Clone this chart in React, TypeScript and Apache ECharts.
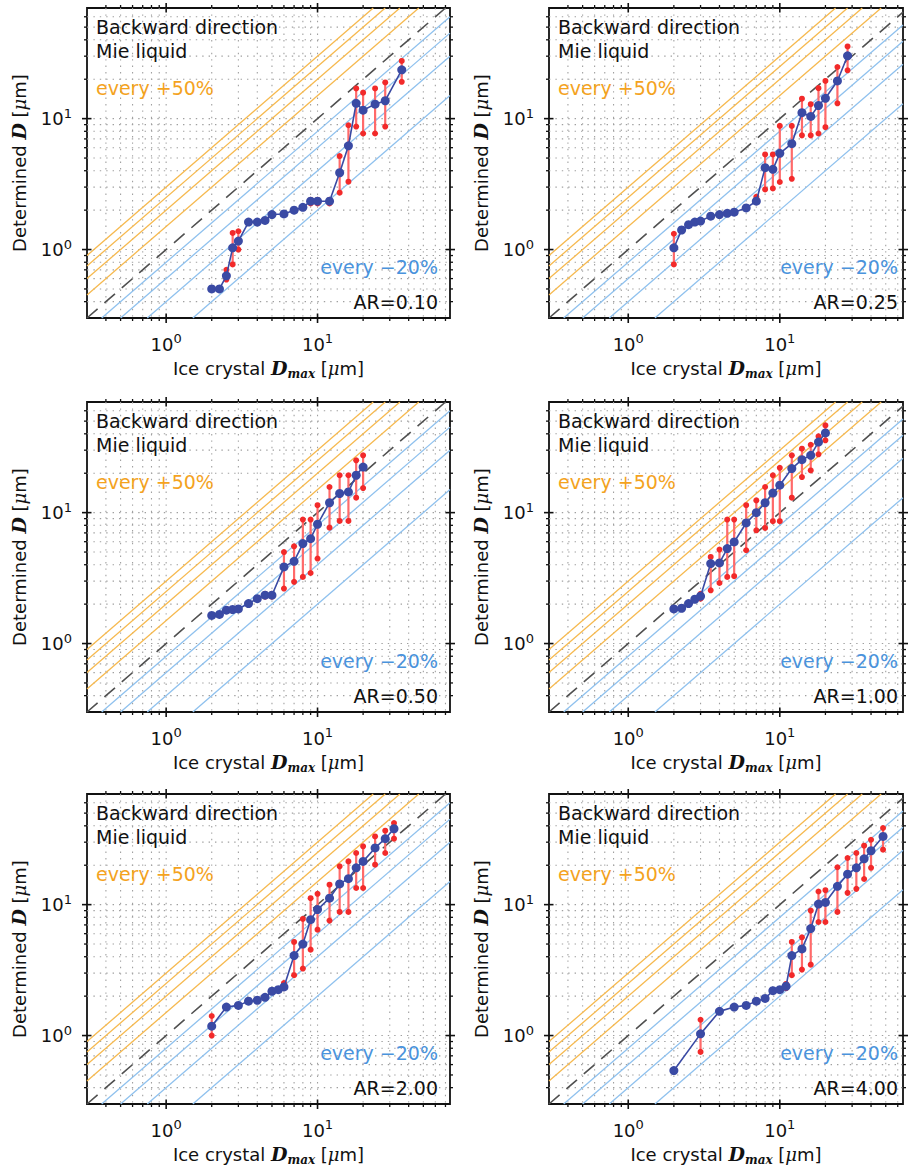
import React, { useEffect, useRef } from 'react';
import * as echarts from 'echarts';

// ---------- texts ----------
const PANEL_LABELS = ['AR=0.10', 'AR=0.25', 'AR=0.50', 'AR=1.00', 'AR=2.00', 'AR=4.00'];
const LINE1 = 'Backward direction';
const LINE2 = 'Mie liquid';
const PLUS_LABEL = 'every +50%';
const MINUS_LABEL = 'every \u221220%';

// ---------- data (Dmax, determined D, lower / upper bound) ----------
const X1 = [2, 2.25, 2.5, 2.75, 3, 3.5, 4, 4.5, 5, 6, 7, 8, 9, 10, 12, 14, 16, 18, 20, 24, 28, 36];
const Y1 = [0.5, 0.5, 0.63, 1.03, 1.16, 1.62, 1.62, 1.67, 1.85, 1.87, 2.0, 2.1, 2.34, 2.34, 2.34, 3.86, 6.2, 13.1, 11.6, 12.9, 13.7, 23.6];
const LO1 = [0.5, 0.5, 0.59, 0.77, 1.0, 1.62, 1.62, 1.67, 1.85, 1.87, 2.0, 2.1, 2.25, 2.25, 2.25, 2.72, 3.3, 8.7, 7.7, 7.7, 8.7, 19.1];
const HI1 = [0.5, 0.5, 0.7, 1.34, 1.38, 1.62, 1.62, 1.67, 1.85, 1.87, 2.0, 2.1, 2.4, 2.4, 2.4, 5.18, 8.9, 17.0, 15.8, 17.0, 18.9, 27.6];

const X2 = [2, 2.25, 2.5, 2.75, 3, 3.5, 4, 4.5, 5, 6, 7, 8, 9, 10, 12, 14, 16, 18, 20, 24, 28];
const Y2 = [1.03, 1.41, 1.55, 1.62, 1.65, 1.8, 1.85, 1.89, 1.93, 2.08, 2.34, 4.22, 4.1, 5.43, 6.44, 11.1, 10.4, 12.6, 14.3, 19.4, 30.2];
const LO2 = [0.77, 1.41, 1.55, 1.62, 1.65, 1.8, 1.85, 1.89, 1.93, 2.08, 2.3, 2.88, 2.93, 3.28, 3.47, 7.45, 7.45, 7.7, 8.6, 13.1, 23.4];
const HI2 = [1.32, 1.41, 1.55, 1.62, 1.65, 1.8, 1.85, 1.89, 1.93, 2.08, 2.53, 5.33, 5.33, 8.8, 8.8, 14.2, 12.9, 17.1, 19.4, 24.8, 35.6];

const X3 = [2, 2.25, 2.5, 2.75, 3, 3.5, 4, 4.5, 5, 6, 7, 8, 9, 10, 12, 14, 16, 18, 20];
const Y3 = [1.64, 1.67, 1.8, 1.82, 1.84, 2.02, 2.2, 2.34, 2.34, 3.85, 4.25, 5.8, 6.33, 8.15, 11.9, 14.0, 14.4, 19.3, 22.3];
const LO3 = [1.64, 1.67, 1.8, 1.82, 1.84, 2.02, 2.2, 2.28, 2.28, 2.63, 2.96, 3.23, 3.46, 4.46, 7.68, 8.64, 8.64, 13.0, 15.4];
const HI3 = [1.64, 1.67, 1.8, 1.82, 1.84, 2.02, 2.2, 2.4, 2.4, 5.0, 5.53, 8.85, 8.85, 11.4, 15.7, 19.3, 19.3, 25.1, 27.4];

const X4 = [2, 2.25, 2.5, 2.75, 3, 3.5, 4, 4.5, 5, 6, 7, 8, 9, 10, 12, 14, 16, 18, 20];
const Y4 = [1.84, 1.86, 2.02, 2.18, 2.3, 4.08, 4.13, 5.31, 5.97, 8.34, 10.0, 11.9, 14.1, 16.2, 21.7, 25.4, 27.4, 34.6, 40.6];
const LO4 = [1.84, 1.86, 2.02, 2.18, 2.2, 2.55, 2.9, 3.23, 3.27, 5.16, 7.33, 7.64, 8.6, 8.6, 13.0, 18.7, 21.0, 27.9, 35.7];
const HI4 = [1.84, 1.86, 2.02, 2.18, 2.4, 4.59, 5.22, 8.85, 8.85, 11.4, 12.4, 15.7, 19.3, 22.0, 27.4, 30.8, 33.0, 38.3, 46.4];

const X5 = [2, 2.5, 3, 3.5, 4, 4.5, 5, 5.5, 6, 7, 8, 9, 10, 12, 14, 16, 18, 20, 24, 28, 32];
const Y5 = [1.18, 1.65, 1.7, 1.83, 1.86, 1.96, 2.18, 2.24, 2.35, 4.08, 5.0, 7.68, 9.16, 11.2, 14.4, 15.8, 19.1, 21.4, 27.1, 31.9, 38.0];
const LO5 = [1.0, 1.65, 1.7, 1.83, 1.86, 1.96, 2.18, 2.24, 2.3, 2.89, 3.25, 4.53, 6.44, 7.55, 8.79, 8.79, 13.4, 13.4, 20.2, 24.8, 31.9];
const HI5 = [1.41, 1.65, 1.7, 1.83, 1.86, 1.96, 2.18, 2.24, 2.52, 5.19, 7.78, 11.2, 12.1, 14.2, 19.6, 21.4, 24.8, 27.9, 33.2, 36.7, 42.0];

const X6 = [2, 3, 4, 5, 6, 7, 8, 9, 10, 11, 12, 14, 16, 18, 20, 24, 28, 32, 36, 40, 48];
const Y6 = [0.54, 1.03, 1.53, 1.65, 1.7, 1.83, 1.92, 2.2, 2.24, 2.38, 4.08, 4.59, 6.56, 10.1, 10.4, 13.8, 17.1, 19.1, 22.4, 25.8, 33.2];
const LO6 = [0.54, 0.75, 1.53, 1.65, 1.7, 1.83, 1.92, 2.2, 2.24, 2.3, 2.89, 3.19, 3.48, 7.37, 7.37, 8.79, 12.3, 13.2, 15.7, 19.1, 26.3];
const HI6 = [0.54, 1.32, 1.53, 1.65, 1.7, 1.83, 1.92, 2.2, 2.24, 2.48, 5.19, 5.63, 9.0, 12.6, 12.9, 19.3, 22.7, 24.8, 28.2, 31.3, 38.5];

const PANELS = [
  { x: X1, y: Y1, lo: LO1, hi: HI1 },
  { x: X2, y: Y2, lo: LO2, hi: HI2 },
  { x: X3, y: Y3, lo: LO3, hi: HI3 },
  { x: X4, y: Y4, lo: LO4, hi: HI4 },
  { x: X5, y: Y5, lo: LO5, hi: HI5 },
  { x: X6, y: Y6, lo: LO6, hi: HI6 },
];

// guide lines: D = ratio * Dmax
const ORANGE_RATIOS = [1.5, 2, 2.5, 3];
const BLUE_RATIOS = [0.8, 0.6, 0.4, 0.2];
const IDENTITY_RATIOS = [1];

// axis ticks
const MAJOR_TICKS = [1, 10];
const MINOR_TICKS = [0.4, 0.5, 0.6, 0.7, 0.8, 0.9, 2, 3, 4, 5, 6, 7, 8, 9, 20, 30, 40, 50, 60, 70];

const X_MIN = 0.3;
const X_MAX = [75, 65];
const Y_MIN = 0.3;
const Y_MAX = 70;

// ---------- layout & style ----------
const COL_LEFT = [87, 549];
const COL_WIDTH = [363, 354];
const TEXT_RIGHT = [438, 898];
const ROW_TOP = [8, 402, 794];
const ROW_HEIGHT = 310;

const FONT = "'DejaVu Sans', sans-serif";
const SERIF = "'DejaVu Serif', serif";
const INK = '#111111';
const ORANGE_LINE = '#f6b94f';
const ORANGE_TEXT = '#f4a31e';
const BLUE_LINE = '#8fc1ee';
const BLUE_TEXT = '#4a93dc';
const MARK_BLUE = '#3a4aa4';
const RED = '#f22a2a';
const RED_BAR = '#ff6a6a';

const powLabel = (v: number) => {
  const e = Math.log10(v);
  const r = Math.round(e);
  return Math.abs(e - r) < 1e-6 ? `{b|10}{s|${r}}` : '';
};

const labelRich = {
  b: { fontSize: 18, fontFamily: FONT, color: INK, lineHeight: 24 },
  s: { fontSize: 13, fontFamily: FONT, color: INK, verticalAlign: 'top', lineHeight: 10 },
};

const nameRich = {
  n: { fontSize: 18, fontFamily: FONT, color: INK, lineHeight: 24 },
  d: { fontSize: 19, fontFamily: SERIF, fontStyle: 'italic', fontWeight: 'bold', color: INK, lineHeight: 24 },
  sub: { fontSize: 12, fontFamily: SERIF, fontStyle: 'italic', fontWeight: 'bold', color: INK, verticalAlign: 'bottom', lineHeight: 14 },
  mu: { fontSize: 18, fontFamily: SERIF, fontStyle: 'italic', color: INK, lineHeight: 24 },
};

function buildOption() {
  const grid: any[] = [];
  const xAxis: any[] = [];
  const yAxis: any[] = [];
  const series: any[] = [];
  const graphic: any[] = [];

  const tickData: number[][] = [];
  MAJOR_TICKS.forEach((v) => { tickData.push([v, v, 0, 1]); tickData.push([v, v, 1, 1]); });
  MINOR_TICKS.forEach((v) => { tickData.push([v, v, 0, 0]); tickData.push([v, v, 1, 0]); });

  PANELS.forEach((p, i) => {
    const col = i % 2;
    const row = Math.floor(i / 2);
    const gx = COL_LEFT[col];
    const gy = ROW_TOP[row];
    const gw = COL_WIDTH[col];
    const gh = ROW_HEIGHT;
    const xMax = X_MAX[col];

    grid.push({
      left: gx, top: gy, width: gw, height: gh, show: true,
      borderColor: INK, borderWidth: 1.8, backgroundColor: 'transparent', containLabel: false,
    });

    xAxis.push({
      type: 'log', logBase: 10, gridIndex: i, min: X_MIN, max: xMax,
      axisLine: { show: false }, axisTick: { show: false }, splitLine: { show: false }, minorTick: { show: false },
      axisLabel: { formatter: powLabel, margin: 14, rich: labelRich, color: INK, fontFamily: FONT },
      name: '{n|Ice crystal }{d|D}{sub|max}{n| [}{mu|\u03bc}{n|m]}',
      nameLocation: 'middle', nameGap: 38,
      nameTextStyle: { rich: nameRich, fontSize: 18, fontFamily: FONT, color: INK },
    });
    yAxis.push({
      type: 'log', logBase: 10, gridIndex: i, min: Y_MIN, max: Y_MAX,
      axisLine: { show: false }, axisTick: { show: false }, splitLine: { show: false }, minorTick: { show: false },
      axisLabel: { formatter: powLabel, margin: 15, rich: labelRich, color: INK, fontFamily: FONT },
      name: '{n|Determined }{d|D}{n| [}{mu|\u03bc}{n|m]}',
      nameLocation: 'middle', nameGap: 56, nameRotate: 90,
      nameTextStyle: { rich: nameRich, fontSize: 18, fontFamily: FONT, color: INK },
    });

    // dotted grid
    series.push({
      type: 'custom', xAxisIndex: i, yAxisIndex: i, silent: true, z: 1,
      encode: { x: 0, y: 1 },
      data: tickData,
      renderItem: (params: any, api: any) => {
        const cs = params.coordSys;
        const dim = api.value(2);
        const v = api.value(dim === 0 ? 0 : 1);
        const st = { stroke: '#a0a0a0', lineWidth: 1.1, lineDash: [1.4, 5] };
        if (dim === 0) {
          const px = api.coord([v, 1])[0];
          if (px < cs.x + 1 || px > cs.x + cs.width - 1) return null;
          return { type: 'line', shape: { x1: px, y1: cs.y, x2: px, y2: cs.y + cs.height }, style: st };
        }
        const py = api.coord([1, v])[1];
        if (py < cs.y + 1 || py > cs.y + cs.height - 1) return null;
        return { type: 'line', shape: { x1: cs.x, y1: py, x2: cs.x + cs.width, y2: py }, style: st };
      },
    });

    // guide lines
    const addGuides = (ratios: number[], color: string, dash: number[] | null, width: number) => {
      ratios.forEach((r) => {
        const x0 = Math.max(X_MIN, Y_MIN / r);
        const x1 = Math.min(xMax, Y_MAX / r);
        series.push({
          type: 'line', xAxisIndex: i, yAxisIndex: i, silent: true, z: 2,
          symbol: 'none', data: [[x0, x0 * r], [x1, x1 * r]],
          lineStyle: { color, width, type: dash || 'solid' },
        });
      });
    };
    addGuides(ORANGE_RATIOS, ORANGE_LINE, null, 1.3);
    addGuides(BLUE_RATIOS, BLUE_LINE, null, 1.3);
    addGuides(IDENTITY_RATIOS, '#505050', [14, 9], 1.6);

    // error bars
    series.push({
      type: 'custom', xAxisIndex: i, yAxisIndex: i, silent: true, z: 3,
      encode: { x: 0, y: [1, 2] },
      data: p.x.map((xv, k) => [xv, p.lo[k], p.hi[k]]),
      renderItem: (params: any, api: any) => {
        const a = api.coord([api.value(0), api.value(1)]);
        const b = api.coord([api.value(0), api.value(2)]);
        if (Math.abs(a[1] - b[1]) < 1) return null;
        return {
          type: 'group',
          children: [
            { type: 'line', shape: { x1: a[0], y1: a[1], x2: b[0], y2: b[1] }, style: { stroke: RED_BAR, lineWidth: 2.2 } },
            { type: 'circle', shape: { cx: a[0], cy: a[1], r: 3 }, style: { fill: RED } },
            { type: 'circle', shape: { cx: b[0], cy: b[1], r: 3 }, style: { fill: RED } },
          ],
        };
      },
    });

    // determined sizes
    series.push({
      type: 'line', xAxisIndex: i, yAxisIndex: i, silent: true, z: 4,
      data: p.x.map((xv, k) => [xv, p.y[k]]),
      symbol: 'circle', symbolSize: 9,
      lineStyle: { color: MARK_BLUE, width: 1.6 },
      itemStyle: { color: MARK_BLUE },
    });

    // ticks on all four sides
    series.push({
      type: 'custom', xAxisIndex: i, yAxisIndex: i, silent: true, z: 6,
      encode: { x: 0, y: 1 },
      data: tickData,
      renderItem: (params: any, api: any) => {
        const cs = params.coordSys;
        const dim = api.value(2);
        const major = api.value(3) === 1;
        const v = api.value(dim === 0 ? 0 : 1);
        const out = major ? 5 : 3;
        const inn = major ? 4.5 : 0;
        const st = { stroke: INK, lineWidth: major ? 1.6 : 1.3 };
        if (dim === 0) {
          const px = api.coord([v, 1])[0];
          if (px < cs.x + 1 || px > cs.x + cs.width - 1) return null;
          const bot = cs.y + cs.height;
          return { type: 'group', children: [
            { type: 'line', shape: { x1: px, y1: bot - inn, x2: px, y2: bot + out }, style: st },
            { type: 'line', shape: { x1: px, y1: cs.y + inn, x2: px, y2: cs.y - out }, style: st },
          ] };
        }
        const py = api.coord([1, v])[1];
        if (py < cs.y + 1 || py > cs.y + cs.height - 1) return null;
        const right = cs.x + cs.width;
        return { type: 'group', children: [
          { type: 'line', shape: { x1: cs.x + inn, y1: py, x2: cs.x - out, y2: py }, style: st },
          { type: 'line', shape: { x1: right - inn, y1: py, x2: right + out, y2: py }, style: st },
        ] };
      },
    });

    // annotations
    const txt = (text: string, x: number, y: number, fill: string, align: string) => ({
      type: 'text', x, y, z: 100, silent: true,
      style: { text, fill, font: `19px ${FONT}`, textAlign: align, align, textVerticalAlign: 'middle', verticalAlign: 'middle' },
    });
    graphic.push(txt(LINE1, gx + 9, gy + 19, INK, 'left'));
    graphic.push(txt(LINE2, gx + 9, gy + 43, INK, 'left'));
    graphic.push(txt(PLUS_LABEL, gx + 9, gy + 80, ORANGE_TEXT, 'left'));
    graphic.push(txt(MINUS_LABEL, TEXT_RIGHT[col], gy + 259, BLUE_TEXT, 'right'));
    graphic.push(txt(PANEL_LABELS[i], TEXT_RIGHT[col], gy + 294, INK, 'right'));
  });

  return { animation: false, backgroundColor: '#ffffff', grid, xAxis, yAxis, series, graphic };
}

export default function App() {
  const ref = useRef<HTMLDivElement>(null);
  useEffect(() => {
    if (!ref.current) return;
    const chart = echarts.init(ref.current, undefined, { renderer: 'svg' });
    chart.setOption(buildOption() as any);
    return () => chart.dispose();
  }, []);
  return (
    <div
      ref={ref}
      style={{ position: 'absolute', left: 0, top: 0, width: 908, height: 1170, background: '#fff' }}
    />
  );
}
